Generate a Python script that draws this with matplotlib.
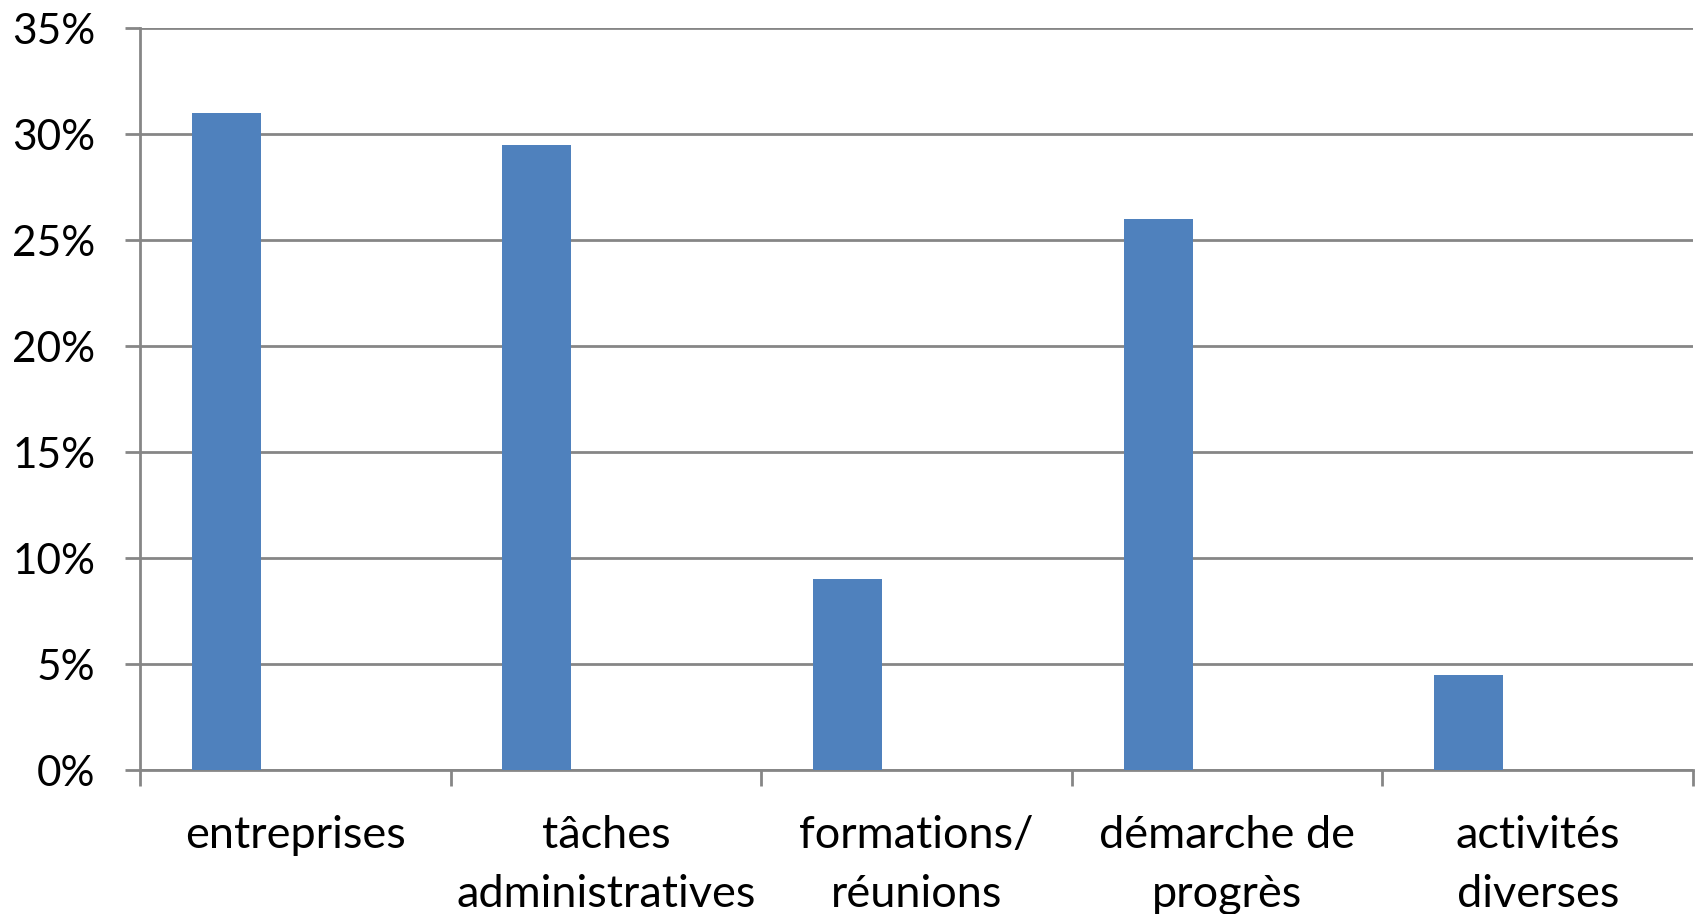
import matplotlib.pyplot as plt
import numpy as np

# données
categories = ['entreprises', 'tâches\nadministratives', 'formations/\nréunions',
              'démarche de\nprogrès', 'activités\ndiverses']
valeurs = [31, 29.5, 9, 26, 4.5]
graduations = [0, 5, 10, 15, 20, 25, 30, 35]

plt.rcParams['font.family'] = ['Lato', 'DejaVu Sans']

gris = '#868686'
fig = plt.figure(figsize=(16.96, 9.14), dpi=100)
ax = fig.add_axes([140 / 1696, 1 - 770 / 914, 1553 / 1696, (770 - 28.3) / 914])

x = np.arange(len(categories))
largeur = 1 / 4.5
ax.bar(x - largeur, valeurs, width=largeur, color='#4F81BD', zorder=3)

ax.set_xlim(-0.5, len(categories) - 0.5)
ax.set_ylim(0, 35)
ax.set_yticks(graduations)
ax.set_yticklabels([f'{g}%' for g in graduations])
ax.yaxis.grid(True, color=gris, linewidth=2, zorder=0)

ax.set_xticks(x)
ax.set_xticklabels(categories, linespacing=1.55)
ax.set_xticks(np.arange(-0.5, len(categories)), minor=True)
ax.tick_params(axis='x', which='major', length=0, pad=32.5, labelsize=32.5)
ax.tick_params(axis='x', which='minor', length=11.5, width=2, color=gris)
ax.tick_params(axis='y', length=11, width=2, color=gris, pad=21, labelsize=30.5)

for cote in ['top', 'right']:
    ax.spines[cote].set_visible(False)
for cote in ['left', 'bottom']:
    ax.spines[cote].set_color(gris)
    ax.spines[cote].set_linewidth(2)

fig.savefig('out.png', dpi=100)
